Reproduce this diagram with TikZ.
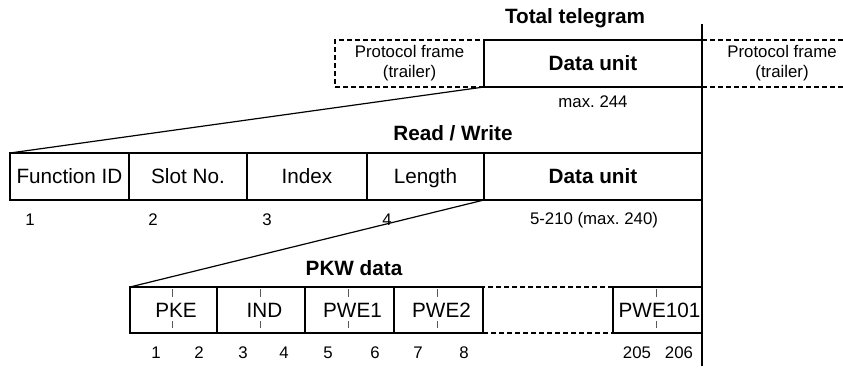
\documentclass[tikz,border=0pt]{standalone}
\usepackage{fontspec}
\setmainfont{Liberation Sans}
\frenchspacing
\newcommand\myN{\fontsize{20.7pt}{24pt}\selectfont}
\newcommand\myS{\fontsize{16.8pt}{20pt}\selectfont}
\begin{document}
\begin{tikzpicture}[x=1pt,y=-1pt,
  every node/.style={inner sep=0pt, outer sep=0pt},
  box/.style={draw, line width=1.5pt, font=\myN, text height=15pt, text depth=0pt},
  dbox/.style={draw, line width=2.1pt, dash pattern=on 5pt off 3pt, font=\myS, align=center},
  lbl/.style={font=\myS},
  ttl/.style={font=\myN\bfseries},
  conn/.style={line width=1.2pt},
  tick/.style={line width=0.7pt, black!65}]
\useasboundingbox (0,0) rectangle (843,371);

% Row 1
\node[ttl] (total) at (575,18) {Total telegram};
\node[dbox, minimum width=149pt, minimum height=47pt] (lframe) at (409.5,63.5) {Protocol frame\\(trailer)};
\node[box, minimum width=218pt, minimum height=47pt, font=\myN\bfseries] (du1) at (593,63.5) {Data unit};
\node[font=\myS, align=center] (rframe) at (782,63) {Protocol frame\\(trailer)};
\draw[line width=2.1pt, dash pattern=on 5pt off 3pt] (du1.north east) -- (843,40) (du1.south east) -- (843,87);
\node[lbl] (max244) at (593,102) {max.\ 244};

% Row 2
\node[ttl] (rw) at (453,133) {Read / Write};
\node[box, minimum width=119pt, minimum height=47pt] (fid) at (69.5,176.5) {Function ID};
\node[box, minimum width=118pt, minimum height=47pt] (slot) at (188,176.5) {Slot No.};
\node[box, minimum width=120pt, minimum height=47pt] (idx) at (307,176.5) {Index};
\node[box, minimum width=117pt, minimum height=47pt] (len) at (425.5,176.5) {Length};
\node[box, minimum width=218pt, minimum height=47pt, font=\myN\bfseries] (du2) at (593,176.5) {Data unit};
\node[lbl] (n1) at (30,220) {1};
\node[lbl] (n2) at (153,220) {2};
\node[lbl] (n3) at (267,220) {3};
\node[lbl] (n4) at (387,220) {4};
\node[lbl] (n5) at (594,220) {5-210 (max.\ 240)};

% Row 3
\node[ttl] (pkw) at (354,268) {PKW data};
\node[box, minimum width=87pt, minimum height=46pt] (pke) at (173.5,310) {\hspace*{5pt}PKE};
\node[box, minimum width=88pt, minimum height=46pt] (ind) at (261,310) {\hspace*{7pt}IND};
\node[box, minimum width=89pt, minimum height=46pt] (pwe1) at (349.5,310) {\hspace*{6pt}PWE1};
\node[box, minimum width=89pt, minimum height=46pt] (pwe2) at (438.5,310) {\hspace*{6pt}PWE2};
\node[dbox, minimum width=130pt, minimum height=46pt] (gap) at (548,310) {};
\node[box, minimum width=89pt, minimum height=46pt] (pwe101) at (657.5,310) {\hspace*{4pt}PWE101};

\foreach \x in {172,260,348,437,656}{
  \draw[tick] (\x,289) -- (\x,297) (\x,321) -- (\x,328);
}

\node[lbl] (m1) at (156,353) {1};
\node[lbl] (m2) at (199,353) {2};
\node[lbl] (m3) at (243,353) {3};
\node[lbl] (m4) at (284,353) {4};
\node[lbl] (m5) at (328,353) {5};
\node[lbl] (m6) at (375,353) {6};
\node[lbl] (m7) at (418,353) {7};
\node[lbl] (m8) at (464,353) {8};
\node[lbl] (m205) at (637,353) {205};
\node[lbl] (m206) at (679,353) {206};

% Connectors
\draw[conn] (lframe.south east) -- (fid.north west);
\draw[conn] (len.south east) -- (pke.north west);
\coordinate (vtop) at (702,24);
\coordinate (vbot) at (702,366);
\draw[line width=1.5pt] (vtop) -- (vbot);
\end{tikzpicture}
\end{document}
